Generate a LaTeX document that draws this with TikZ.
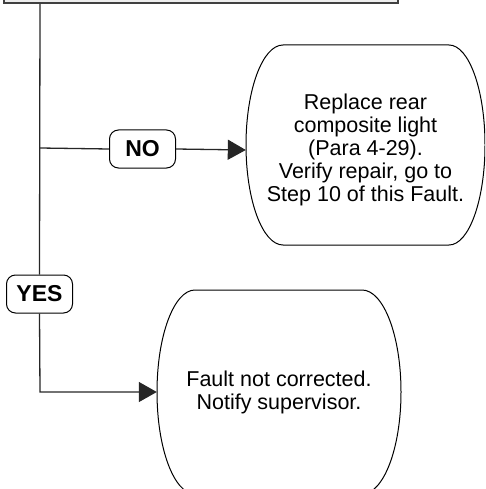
\documentclass[tikz,border=0pt]{standalone}
\usepackage{fontspec}
\setmainfont{Liberation Sans}
\usetikzlibrary{arrows.meta}
\tikzset{
  answer/.style={draw, line width=1pt, rounded corners=9pt, minimum width=66pt, minimum height=38pt,
    inner sep=0pt, font=\fontsize{23}{24}\selectfont\bfseries},
  stepbox/.style={align=center, inner sep=0pt, font=\fontsize{21.5}{23}\selectfont},
  link/.style={draw=black!85, line width=1.3pt},
  arrowlink/.style={link, -{Triangle[length=18pt,width=20pt]}}
}

\begin{document}
\begin{tikzpicture}[x=1pt,y=1pt]
\useasboundingbox (0,0) rectangle (485,-489);
\clip (0,0) rectangle (485,-489);

% question box (cut off at the top)
\node (check) [draw=black!75, line width=1.5pt, fill=black!7, minimum width=394pt,
  minimum height=40pt, anchor=south] at (201,-4) {};
\coordinate (top) at (40,-4);
\coordinate (split) at (40,-148);
\coordinate (bend) at (40,-392);

% answers
\node (no) [answer] at (142.5,-149) {NO};
\node (yes) [answer] at (39.5,-294) {YES};

% terminals
\draw[line width=1pt] (283,-45) -- (449,-45) arc[start angle=90, end angle=-90, x radius=36pt, y radius=100pt]
  -- (283,-245) arc[start angle=270, end angle=90, x radius=37pt, y radius=100pt] -- cycle;
\node (fixA) [stepbox, minimum width=239pt, minimum height=200pt] at (365.5,-150)
  {Replace rear\\composite light\\(Para 4-29).\\Verify repair, go to\\Step 10 of this Fault.};

\draw[line width=1pt] (195,-290) -- (362,-290) arc[start angle=90, end angle=-90, x radius=39pt, y radius=102pt]
  -- (195,-494) arc[start angle=270, end angle=90, x radius=38pt, y radius=102pt] -- cycle;
\node (fixB) [stepbox, minimum width=244pt, minimum height=204pt] at (279,-392)
  {Fault not corrected.\\Notify supervisor.};

% connectors
\draw[link] (top) -- (yes.north);
\draw[link] (split) -- (no.west);
\draw[arrowlink] (no.east) -- (fixA.west);
\draw[arrowlink] (yes.south) -- (bend) -- (fixB.west);
\end{tikzpicture}
\end{document}
